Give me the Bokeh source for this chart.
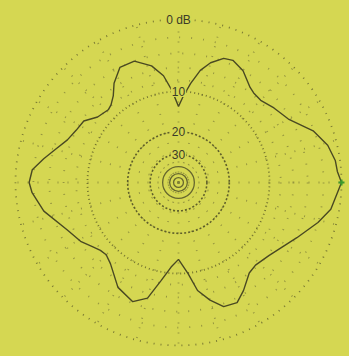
import numpy as np
from bokeh.plotting import figure
from bokeh.models import Range1d, ColumnDataSource
from bokeh.core.properties import value
from bokeh.embed import file_html
from bokeh.resources import INLINE

BG = "#d5d752"

# pattern: azimuth (deg, CCW from east) and relative gain (dB)
angles_deg = [0, 4, 8, 14, 21, 30, 38, 45, 50, 53, 60, 66, 70, 75, 79, 83, 87, 90,
              94, 98, 103, 110, 117, 123, 127, 131, 134, 141, 147, 153, 159, 165, 170, 175, 180,
              184, 192, 203, 211, 217, 221, 225, 230, 240, 249, 255, 260, 265, 270,
              276, 280, 285, 290, 296, 301, 308, 313, 321, 335, 344, 350, 360]
gain_db = [0.0, -0.4, -0.5, -1.0, -2.1, -4.3, -5.1, -5.8, -5.7, -5.4, -4.0, -3.4, -3.6, -4.7, -6.1, -8.4, -11.0, -13.1,
           -9.8, -7.1, -5.3, -4.0, -4.0, -5.5, -7.0, -7.9, -8.2, -7.7, -6.3, -6.0, -5.4, -4.2, -3.0, -1.8, -1.5,
           -1.8, -2.9, -5.1, -6.1, -7.2, -7.8, -8.0, -7.4, -5.1, -4.2, -5.3, -8.5, -11.2, -12.9,
           -9.9, -6.8, -5.0, -3.6, -3.4, -4.4, -6.0, -6.3, -5.8, -3.8, -2.0, -0.9, 0.0]

fine_rings_db = [-2, -4, -6, -8]
ring0_db = [0]
ring10_db = [-10]
mid_rings_db = [-20, -30]
inner_rings_db = [-40, -50, -60]
label_db = [0, -10, -20, -30]
label_text = ["0 dB", "10", "20", "30"]
spoke_deg = list(range(0, 360, 15))
marker_deg = [0]
marker_db = [0.0]

R = 163.0


def arrl(db):
    # ARRL log scale: 0.89 per 2 dB
    return R * 0.89 ** (-np.asarray(db, dtype=float) / 2.0)


p = figure(width=349, height=356, output_backend="svg", toolbar_location=None,
           x_range=Range1d(-178, 171), y_range=Range1d(-174, 182),
           min_border=0, background_fill_color=BG, border_fill_color=BG,
           outline_line_color=None, match_aspect=False)
p.axis.visible = False
p.grid.visible = False

# spokes
th = np.radians(spoke_deg)
p.multi_line(xs=[[0, R * np.cos(t)] for t in th], ys=[[0, R * np.sin(t)] for t in th],
             line_color="#80803a", line_width=1.8, line_dash="1 9", line_alpha=0.75)

# rings
p.circle(x=0, y=0, radius=arrl(fine_rings_db), fill_color=None,
         line_color="#80803a", line_width=1.8, line_dash="1 11", line_alpha=0.75)
p.circle(x=0, y=0, radius=arrl(ring0_db), fill_color=None,
         line_color="#7a7a33", line_width=1.8, line_dash="1 6")
p.circle(x=0, y=0, radius=arrl(ring10_db), fill_color=None,
         line_color="#75752f", line_width=1.8, line_dash="1 3")
p.circle(x=0, y=0, radius=arrl(mid_rings_db), fill_color=None,
         line_color="#5f5f2a", line_width=1.6, line_dash="2 2")
p.circle(x=0, y=0, radius=arrl(inner_rings_db), fill_color=None,
         line_color="#66662e", line_width=1.3)

# pattern
a = np.radians(angles_deg)
rr = arrl(gain_db)
p.line(x=rr * np.cos(a), y=rr * np.sin(a), line_color="#4a4922", line_width=1.4)

# marker
ma = np.radians(marker_deg)
mr = arrl(marker_db)
p.scatter(x=mr * np.cos(ma), y=mr * np.sin(ma), marker="cross", size=6,
          line_color="#3c9a2c", line_width=2)

# labels
lsrc = ColumnDataSource(dict(x=[0.0] * len(label_db), y=list(arrl(label_db)), t=label_text))
p.text(x="x", y="y", text="t", source=lsrc, text_align="center", text_baseline="middle",
       text_font=value("Liberation Sans"), text_font_size="12px", text_color="#3b3b28",
       background_fill_color=BG, padding=1)

html = file_html(p, INLINE, title="")
html = html.replace("<head>", "<head><style>html,body{background:%s;}</style>" % BG, 1)
open("out.html", "w").write(html)
